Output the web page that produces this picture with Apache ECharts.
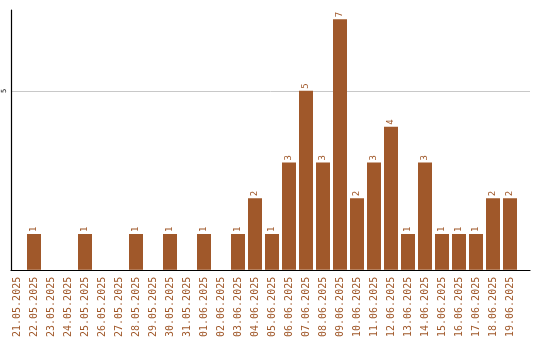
<!DOCTYPE html>
<html><head><meta charset="utf-8">
<script src="https://cdn.jsdelivr.net/npm/echarts@6/dist/echarts.min.js"></script>
<style>html,body{margin:0;padding:0;background:#fff}#c{width:540px;height:340px}</style>
</head><body><div id="c"></div>
<script>
var categories = ["21.05.2025","22.05.2025","23.05.2025","24.05.2025","25.05.2025","26.05.2025","27.05.2025","28.05.2025","29.05.2025","30.05.2025","31.05.2025","01.06.2025","02.06.2025","03.06.2025","04.06.2025","05.06.2025","06.06.2025","07.06.2025","08.06.2025","09.06.2025","10.06.2025","11.06.2025","12.06.2025","13.06.2025","14.06.2025","15.06.2025","16.06.2025","17.06.2025","18.06.2025","19.06.2025"];
var values = [0,1,0,0,1,0,0,1,0,1,0,1,0,1,2,1,3,5,3,7,2,3,4,1,3,1,1,1,2,2];
var yTicks = [5];
var yMax = 7.26;
var color = "#A0582A";
var chart = echarts.init(document.getElementById('c'));
chart.setOption({
  animation: false,
  grid: [
    {left: 8.5, right: 21.5, top: 10, bottom: 70},
    {left: 11, right: 10, top: 10, bottom: 70}
  ],
  xAxis: [
    {type: 'category', gridIndex: 0, data: categories,
     axisLine: {show: false}, axisTick: {show: false},
     axisLabel: {interval: 0, rotate: 90, color: color, fontFamily: 'DejaVu Sans Mono', fontSize: 10, margin: 7}},
    {type: 'value', gridIndex: 1, min: 0, max: 1,
     axisLine: {show: true, onZero: false, lineStyle: {color: '#000', width: 1.2}},
     axisTick: {show: false}, axisLabel: {show: false}, splitLine: {show: false}}
  ],
  yAxis: [
    {type: 'value', gridIndex: 0, min: 0, max: yMax, show: false, splitLine: {show: false}},
    {type: 'value', gridIndex: 1, min: 0, max: yMax, interval: 5,
     axisLine: {show: true, lineStyle: {color: '#000', width: 1.2}},
     axisTick: {show: false},
     axisLabel: {rotate: 90, fontSize: 7, fontFamily: 'DejaVu Sans Mono', color: '#000', margin: 3,
       showMinLabel: false, showMaxLabel: false,
       formatter: function (v) { return yTicks.indexOf(v) >= 0 ? String(v) : ''; }},
     splitLine: {show: true, showMinLine: false, showMaxLine: false, lineStyle: {color: '#c8c8c8', width: 1}}}
  ],
  series: [{
    type: 'bar', xAxisIndex: 0, yAxisIndex: 0, data: values,
    barWidth: 14,
    itemStyle: {color: color},
    label: {show: true, position: 'top', distance: 2, rotate: 90, align: 'left', verticalAlign: 'middle',
      color: color, fontFamily: 'DejaVu Sans Mono', fontSize: 9,
      formatter: function (p) { return p.value > 0 ? String(p.value) : ''; }}
  }]
});
</script></body></html>
